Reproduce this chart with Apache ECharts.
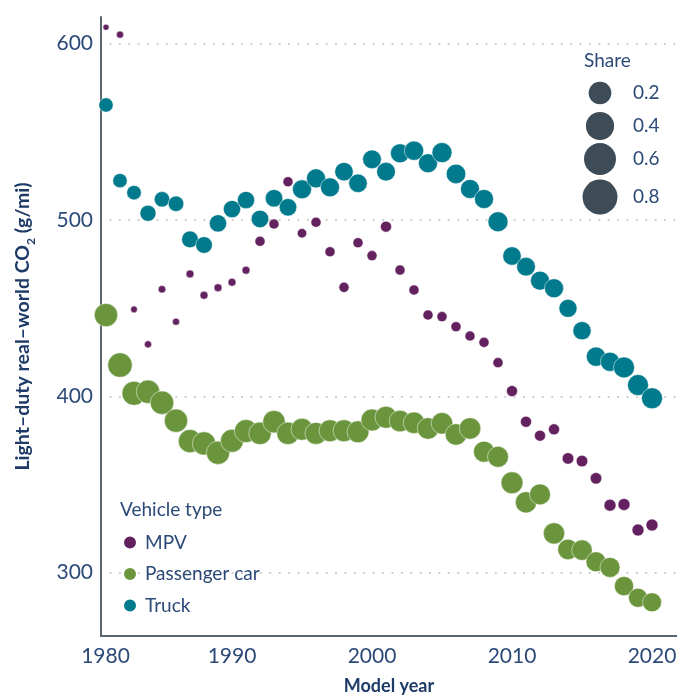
<!DOCTYPE html>
<html>
<head>
<meta charset="utf-8">
<script src="https://cdn.jsdelivr.net/npm/echarts@6/dist/echarts.min.js"></script>
<style>
  html, body { margin: 0; padding: 0; background: #fff; }
  #chart { width: 677px; height: 697px; }
</style>
</head>
<body>
<div id="chart"></div>
<script>
// model years
var years = [1980, 1981, 1982, 1983, 1984, 1985, 1986, 1987, 1988, 1989,
  1990, 1991, 1992, 1993, 1994, 1995, 1996, 1997, 1998, 1999,
  2000, 2001, 2002, 2003, 2004, 2005, 2006, 2007, 2008, 2009,
  2010, 2011, 2012, 2013, 2014, 2015, 2016, 2017, 2018, 2019, 2020];

// real-world CO2 (g/mi)
var mpvCo2 = [null, 609.3, 605.1, 449.3, 429.5, 460.7, 442.3, 469.4, 457.3, 461.6,
  464.7, 471.5, 487.9, 497.7, 521.7, 492.5, 498.7, 482.0, 461.8, 487.1,
  479.8, 496.2, 471.6, 460.3, 446.1, 445.2, 439.5, 434.2, 430.6, 419.1,
  403.0, 385.6, 377.7, 381.3, 364.8, 363.3, 353.5, 338.3, 338.7, 324.2, 327.0];
var carCo2 = [515.9, 446.1, 417.7, 401.7, 402.6, 396.4, 386.2, 374.6, 373.3, 368.0,
  374.8, 380.3, 379.0, 385.6, 379.0, 381.3, 379.0, 380.5, 380.5, 379.9,
  386.6, 388.1, 386.0, 385.0, 381.8, 384.7, 378.4, 381.8, 368.6, 365.7,
  351.0, 339.9, 344.4, 322.3, 313.2, 312.8, 306.2, 303.0, 292.4, 285.8, 283.2];
var truckCo2 = [null, 565.2, 522.3, 515.5, 503.8, 511.7, 509.2, 489.0, 485.8, 498.1,
  506.2, 511.3, 500.6, 512.3, 507.2, 517.4, 523.6, 518.5, 527.4, 520.8,
  534.4, 527.4, 537.8, 539.3, 532.2, 538.2, 526.1, 517.6, 511.9, 499.0,
  479.6, 473.5, 465.6, 461.3, 449.9, 437.2, 422.5, 419.6, 416.4, 406.4, 398.9];

// share (point size)
var mpvShare = [null, 0.003, 0.005, 0.004, 0.005, 0.006, 0.005, 0.007, 0.007, 0.007,
  0.007, 0.007, 0.015, 0.015, 0.015, 0.012, 0.015, 0.015, 0.015, 0.015,
  0.015, 0.02, 0.015, 0.015, 0.015, 0.015, 0.015, 0.015, 0.015, 0.015,
  0.02, 0.02, 0.02, 0.02, 0.023, 0.023, 0.023, 0.026, 0.026, 0.026, 0.026];
var carShare = [0.24, 0.218, 0.256, 0.24, 0.224, 0.224, 0.218, 0.218, 0.218, 0.218,
  0.209, 0.209, 0.195, 0.195, 0.195, 0.18, 0.18, 0.18, 0.18, 0.18,
  0.18, 0.18, 0.169, 0.169, 0.169, 0.169, 0.169, 0.169, 0.156, 0.156,
  0.18, 0.163, 0.156, 0.163, 0.145, 0.145, 0.134, 0.134, 0.119, 0.114, 0.114];
var truckShare = [null, 0.046, 0.046, 0.048, 0.066, 0.059, 0.059, 0.075, 0.075, 0.084,
  0.084, 0.084, 0.087, 0.087, 0.087, 0.114, 0.114, 0.114, 0.104, 0.104,
  0.108, 0.108, 0.114, 0.119, 0.114, 0.134, 0.124, 0.114, 0.114, 0.134,
  0.104, 0.108, 0.114, 0.114, 0.096, 0.1, 0.119, 0.119, 0.156, 0.156, 0.156];

var types = ['MPV', 'Passenger car', 'Truck'];
var colors = ['#63215f', '#6b953c', '#007a8c'];
var shareBreaks = [0.2, 0.4, 0.6, 0.8];

var FONT = 'Lato';
var TXT = '#2c4a78';

function sizeOf(s) { return 37.5 * Math.pow(s, 0.3125); }

function pts(co2, share) {
  var out = [];
  for (var i = 0; i < years.length; i++) {
    if (co2[i] != null) out.push([years[i], co2[i], share[i]]);
  }
  return out;
}

var chart = echarts.init(document.getElementById('chart'));

// size legend
var legendY = [93, 126, 159, 197];
var sizeLegend = [{
  type: 'text', left: 584, top: 51,
  style: { text: 'Share', font: '19px ' + FONT, fill: TXT }
}];
shareBreaks.forEach(function (s, i) {
  sizeLegend.push({
    type: 'circle', shape: { cx: 600, cy: legendY[i], r: sizeOf(s) / 2 },
    style: { fill: '#3e4c57' }
  });
  sizeLegend.push({
    type: 'text', x: 633, y: legendY[i],
    style: { text: s.toFixed(1), font: '19px ' + FONT, fill: TXT, verticalAlign: 'middle' }
  });
});
sizeLegend.push({
  type: 'text', left: 120, top: 500,
  style: { text: 'Vehicle type', font: '19px ' + FONT, fill: TXT }
});

var option = {
  animation: false,
  backgroundColor: '#fff',
  grid: { left: 101, right: 0, top: 17, bottom: 61, containLabel: false, outerBoundsMode: 'none' },
  xAxis: {
    type: 'value',
    min: 1980 + 9 / 14,
    max: 1980 + 585 / 14,
    splitNumber: 4,
    name: 'Model year',
    nameLocation: 'middle',
    nameGap: 41,
    nameTextStyle: { fontFamily: FONT, fontWeight: 'bold', fontSize: 18, color: '#1e3a66' },
    axisLine: { lineStyle: { color: '#59656f', width: 2 } },
    axisTick: { show: false },
    splitLine: { show: false },
    axisLabel: {
      margin: 10,
      fontFamily: FONT, fontSize: 21, color: TXT,
      showMaxLabel: false,
      formatter: function (v) {
        var r = Math.round(v / 10) * 10;
        if (Math.abs(v - r) > 1) return '';
        return r === 1980 ? '{first|1980}' : String(r);
      },
      rich: { first: { fontFamily: FONT, fontSize: 21, color: TXT, padding: [0, 0, 0, 9] } }
    }
  },
  yAxis: {
    type: 'value',
    min: 264.1,
    max: 615.1,
    splitNumber: 3,
    name: 'Light\u2013duty real\u2013world CO{sub|2} (g/mi)',
    nameLocation: 'middle',
    nameGap: 64,
    nameTextStyle: {
      fontFamily: FONT, fontWeight: 'bold', fontSize: 19.5, color: '#1e3a66',
      rich: { sub: { fontFamily: FONT, fontWeight: 'bold', fontSize: 12, color: '#1e3a66', verticalAlign: 'bottom', lineHeight: 28 } }
    },
    axisLine: { show: true, lineStyle: { color: '#59656f', width: 2 } },
    axisTick: { show: false },
    axisLabel: {
      margin: 8, fontFamily: FONT, fontSize: 21, color: TXT,
      showMinLabel: false, showMaxLabel: false,
      formatter: function (v) { return v % 100 === 0 ? String(v) : ''; }
    },
    splitLine: {
      show: true, showMinLine: false, showMaxLine: false,
      lineStyle: { color: '#c9c9c9', width: 2.2, type: [0.1, 9.3], cap: 'round' }
    }
  },
  legend: {
    data: types,
    orient: 'vertical',
    left: 117, top: 528,
    itemWidth: 16, itemHeight: 14, itemGap: 12.5,
    icon: 'circle',
    textStyle: { fontFamily: FONT, fontSize: 19, color: TXT, padding: [0, 0, 0, 2] }
  },
  graphic: sizeLegend,
  series: [
    { name: types[0], data: pts(mpvCo2, mpvShare) },
    { name: types[1], data: pts(carCo2, carShare) },
    { name: types[2], data: pts(truckCo2, truckShare) }
  ].map(function (s, i) {
    return {
      name: s.name, type: 'scatter', data: s.data,
      symbolSize: function (val) { return sizeOf(val[2]); },
      itemStyle: { color: colors[i], opacity: 1, borderColor: '#fff', borderWidth: 0.5 },
      emphasis: { disabled: true }
    };
  })
};

chart.setOption(option);
</script>
</body>
</html>
